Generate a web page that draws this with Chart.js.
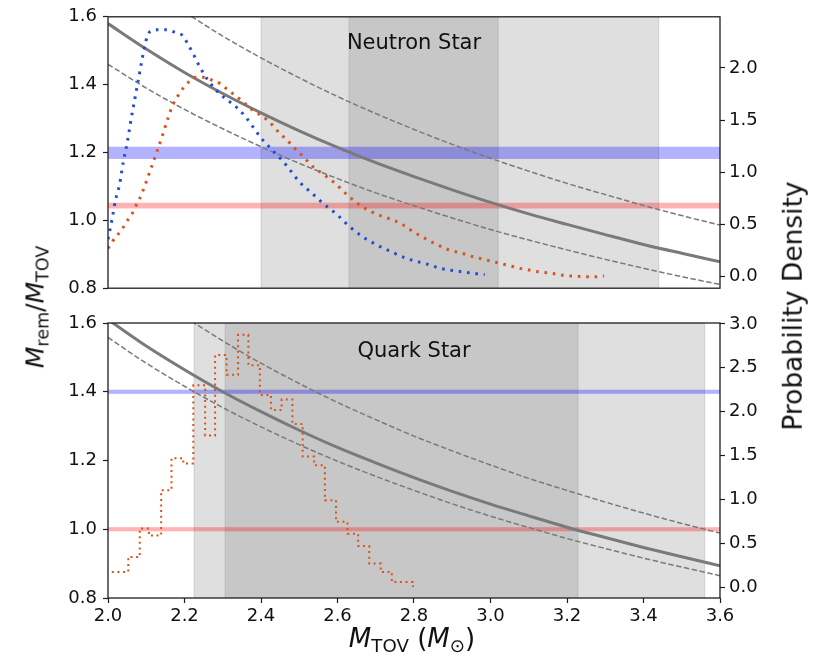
<!DOCTYPE html>
<html>
<head>
<meta charset="utf-8">
<script src="https://cdn.jsdelivr.net/npm/chart.js@4.4.1/dist/chart.umd.min.js"></script>
<style>
  body { margin: 0; background: #fff; font-family: "DejaVu Sans", sans-serif; }
  #wrap { position: relative; width: 819px; height: 659px; overflow: hidden; }
  canvas { position: absolute; left: 0; }
  #nsCanvas { top: 0; }
  #qsCanvas { top: 305px; }
  .txt { position: absolute; white-space: nowrap; color: #111; line-height: 1; }
  .panelTitle { font-size: 21px; transform: translateX(-50%); }
  .axisLab { font-size: 25px; }
  .rot { transform: translate(-50%, -50%) rotate(-90deg); }
  .sub { font-size: 70%; position: relative; top: 0.3em; }
</style>
</head>
<body>
<div id="wrap">
  <canvas id="nsCanvas" width="819" height="305"></canvas>
  <canvas id="qsCanvas" width="819" height="354"></canvas>
  <div class="txt panelTitle" style="left:414px; top:32px;">Neutron Star</div>
  <div class="txt panelTitle" style="left:414px; top:340px;">Quark Star</div>
  <div class="txt axisLab rot" style="left:35px; top:307px;"><i>M</i><span class="sub">rem</span>/<i>M</i><span class="sub">TOV</span></div>
  <div class="txt axisLab rot" style="left:793px; top:306px; font-size:26.5px;">Probability Density</div>
  <div class="txt axisLab" style="left:412px; top:625px; font-size:26px; transform:translateX(-50%);"><i>M</i><span class="sub">TOV</span> (<i>M</i><span class="sub">⊙</span>)</div>
</div>
<script>
// ticks
const xTicks = [2.0, 2.2, 2.4, 2.6, 2.8, 3.0, 3.2, 3.4, 3.6];
const ratioTicks = [0.8, 1.0, 1.2, 1.4, 1.6];
const nsDensityTicks = [0.0, 0.5, 1.0, 1.5, 2.0];
const qsDensityTicks = [0.0, 0.5, 1.0, 1.5, 2.0, 2.5, 3.0];

// M_rem / M_TOV curves, sampled along M_TOV
const curveX = [2.0, 2.1, 2.2, 2.3, 2.4, 2.5, 2.6, 2.7, 2.8, 2.9, 3.0, 3.1, 3.2, 3.3, 3.4, 3.5, 3.6];
const nsFit   = [1.580, 1.505, 1.436, 1.374, 1.317, 1.264, 1.215, 1.170, 1.129, 1.090, 1.053, 1.019, 0.988, 0.958, 0.929, 0.903, 0.878];
const nsUpper = [null, null, 1.614, 1.543, 1.479, 1.420, 1.365, 1.315, 1.268, 1.224, 1.183, 1.145, 1.109, 1.076, 1.044, 1.014, 0.986];
const nsLower = [1.460, 1.390, 1.327, 1.270, 1.217, 1.168, 1.123, 1.081, 1.043, 1.007, 0.973, 0.942, 0.913, 0.885, 0.859, 0.834, 0.811];
const qsFit   = [1.610, 1.533, 1.464, 1.400, 1.342, 1.288, 1.238, 1.193, 1.150, 1.110, 1.073, 1.039, 1.006, 0.976, 0.947, 0.920, 0.894];
const qsUpper = [null, null, 1.618, 1.548, 1.483, 1.424, 1.369, 1.319, 1.271, 1.228, 1.187, 1.148, 1.113, 1.079, 1.047, 1.017, 0.989];
const qsLower = [1.558, 1.483, 1.416, 1.354, 1.298, 1.246, 1.198, 1.154, 1.113, 1.074, 1.038, 1.005, 0.973, 0.944, 0.916, 0.890, 0.865];

// neutron star densities (right axis)
const nsBlueX = [2.000, 2.010, 2.020, 2.030, 2.040, 2.050, 2.060, 2.070, 2.080, 2.090, 2.100, 2.110, 2.130, 2.155, 2.175, 2.195, 2.210, 2.225, 2.240, 2.260, 2.290, 2.320, 2.340, 2.360, 2.380, 2.400, 2.425, 2.450, 2.470, 2.500, 2.530, 2.560, 2.600, 2.630, 2.665, 2.700, 2.740, 2.780, 2.830, 2.870, 2.920, 2.960, 2.985];
const nsBlueY = [0.36, 0.54, 0.74, 0.88, 1.10, 1.28, 1.50, 1.70, 1.90, 2.10, 2.27, 2.35, 2.365, 2.365, 2.34, 2.31, 2.22, 2.12, 2.01, 1.89, 1.76, 1.67, 1.61, 1.53, 1.43, 1.33, 1.23, 1.135, 1.05, 0.91, 0.81, 0.71, 0.59, 0.485, 0.385, 0.31, 0.24, 0.175, 0.125, 0.08, 0.05, 0.03, 0.02];
const nsOrangeX = [2.000, 2.012, 2.025, 2.039, 2.051, 2.064, 2.073, 2.083, 2.092, 2.100, 2.114, 2.129, 2.143, 2.157, 2.170, 2.184, 2.197, 2.212, 2.230, 2.250, 2.274, 2.293, 2.310, 2.345, 2.380, 2.400, 2.415, 2.432, 2.447, 2.463, 2.478, 2.493, 2.511, 2.526, 2.542, 2.560, 2.578, 2.595, 2.612, 2.628, 2.646, 2.663, 2.682, 2.702, 2.724, 2.744, 2.765, 2.784, 2.803, 2.823, 2.842, 2.862, 2.882, 2.903, 2.925, 2.946, 2.968, 2.990, 3.012, 3.034, 3.055, 3.077, 3.099, 3.121, 3.142, 3.164, 3.189, 3.210, 3.232, 3.253, 3.276, 3.297];
const nsOrangeY = [0.27, 0.34, 0.40, 0.47, 0.54, 0.61, 0.68, 0.75, 0.83, 0.91, 1.055, 1.21, 1.36, 1.52, 1.65, 1.74, 1.81, 1.87, 1.91, 1.91, 1.88, 1.85, 1.80, 1.70, 1.59, 1.545, 1.505, 1.445, 1.38, 1.325, 1.27, 1.21, 1.15, 1.09, 1.035, 0.99, 0.94, 0.89, 0.83, 0.775, 0.72, 0.675, 0.635, 0.60, 0.57, 0.545, 0.51, 0.465, 0.42, 0.38, 0.34, 0.305, 0.27, 0.245, 0.225, 0.20, 0.18, 0.16, 0.14, 0.12, 0.10, 0.08, 0.065, 0.05, 0.04, 0.03, 0.015, 0.007, 0.003, 0.0, 0.0, 0.007];

// quark star histogram: left bin edges and heights
const qsBinX = [2.010, 2.053, 2.083, 2.107, 2.139, 2.166, 2.197, 2.223, 2.254, 2.280, 2.310, 2.340, 2.367, 2.397, 2.426, 2.454, 2.482, 2.509, 2.539, 2.567, 2.596, 2.626, 2.654, 2.683, 2.713, 2.742, 2.797, 2.800];
const qsBinY = [0.175, 0.345, 0.67, 0.59, 1.105, 1.47, 1.41, 2.30, 1.73, 2.645, 2.42, 2.875, 2.53, 2.19, 2.02, 2.14, 1.86, 1.49, 1.39, 0.99, 0.745, 0.61, 0.47, 0.27, 0.175, 0.06, 0.015, 0.015];

// shaded ranges
const nsOuterSpan = [2.40, 3.44];
const nsInnerSpan = [2.63, 3.02];
const qsOuterSpan = [2.225, 3.56];
const qsInnerSpan = [2.306, 3.229];
const nsBlueBand = [1.181, 1.217];
const nsRedBand = [1.035, 1.052];
const qsBlueBand = [1.394, 1.406];
const qsRedBand = [0.994, 1.006];

Chart.defaults.font.family = "'DejaVu Sans'";
Chart.defaults.color = '#111';

const inkColor = '#1e1e1e';
const tickFont = { size: 18 };

const toXY = (xs, ys) => xs.map((x, i) => ({ x: x, y: ys[i] }));

// grey vertical spans + coloured horizontal bands drawn under the lines
const spanPlugin = {
  id: 'spans',
  beforeDatasetsDraw(chart, args, opts) {
    const { ctx, chartArea: a, scales } = chart;
    ctx.save();
    ctx.beginPath();
    ctx.rect(a.left, a.top, a.width, a.height);
    ctx.clip();
    opts.vspans.forEach(s => {
      const x0 = scales.x.getPixelForValue(s[0]);
      const x1 = scales.x.getPixelForValue(s[1]);
      ctx.fillStyle = 'rgba(128,128,128,0.25)';
      ctx.fillRect(x0, a.top, x1 - x0, a.height);
      ctx.strokeStyle = 'rgba(128,128,128,0.25)';
      ctx.lineWidth = 1;
      ctx.beginPath();
      ctx.moveTo(x0, a.top); ctx.lineTo(x0, a.bottom);
      ctx.moveTo(x1, a.top); ctx.lineTo(x1, a.bottom);
      ctx.stroke();
    });
    opts.hbands.forEach(b => {
      const y0 = scales.y.getPixelForValue(b.range[0]);
      const y1 = scales.y.getPixelForValue(b.range[1]);
      ctx.fillStyle = b.color;
      ctx.fillRect(a.left, y1, a.width, y0 - y1);
    });
    ctx.restore();
  },
  afterDatasetsDraw(chart) {
    const { ctx, chartArea: a } = chart;
    ctx.save();
    ctx.strokeStyle = inkColor;
    ctx.lineWidth = 1.3;
    ctx.strokeRect(a.left, a.top, a.width, a.height);
    ctx.restore();
  }
};

const fixTicks = vals => scale => { scale.ticks = vals.map(v => ({ value: v })); };

function makePanel(canvasId, cfg) {
  const lineSet = (data, color, width, dash, axis) => ({
    data: data, yAxisID: axis, borderColor: color, borderWidth: width,
    borderDash: dash, borderCapStyle: 'butt', pointRadius: 0, fill: false,
    cubicInterpolationMode: 'monotone', clip: 0
  });
  const datasets = cfg.density.concat([
    lineSet(toXY(curveX, cfg.fit), '#7a7a7a', 3, [], 'y'),
    lineSet(toXY(curveX, cfg.upper), '#7a7a7a', 1.5, [5.5, 2.5], 'y'),
    lineSet(toXY(curveX, cfg.lower), '#7a7a7a', 1.5, [5.5, 2.5], 'y')
  ]);

  return new Chart(document.getElementById(canvasId), {
    type: 'line',
    data: { datasets: datasets },
    plugins: [spanPlugin],
    options: {
      responsive: false,
      animation: false,
      devicePixelRatio: 1,
      layout: { padding: cfg.padding },
      plugins: {
        legend: { display: false },
        tooltip: { enabled: false },
        spans: { vspans: cfg.vspans, hbands: cfg.hbands }
      },
      scales: {
        x: {
          type: 'linear', min: 2.0, max: 3.6, display: cfg.showX,
          afterBuildTicks: fixTicks(xTicks),
          afterFit: s => { s.height = cfg.showX ? 61 : 0; },
          ticks: { font: tickFont, color: '#111', padding: 3, autoSkip: false, maxRotation: 0,
                   callback: v => v.toFixed(1) },
          grid: { drawOnChartArea: false, tickLength: 5, tickColor: inkColor, tickWidth: 1.2 },
          border: { display: false }
        },
        y: {
          type: 'linear', position: 'left', min: 0.8, max: 1.6,
          afterBuildTicks: fixTicks(ratioTicks),
          afterFit: s => { s.width = 108; },
          ticks: { font: tickFont, color: '#111', padding: 6, autoSkip: false,
                   callback: v => v.toFixed(1) },
          grid: { drawOnChartArea: false, tickLength: 5, tickColor: inkColor, tickWidth: 1.2 },
          border: { display: false }
        },
        y2: {
          type: 'linear', position: 'right', min: cfg.densMin, max: cfg.densMax,
          afterBuildTicks: fixTicks(cfg.densTicks),
          afterFit: s => { s.width = 99; },
          ticks: { font: tickFont, color: '#111', padding: 4, autoSkip: false,
                   callback: v => v.toFixed(1) },
          grid: { drawOnChartArea: false, tickLength: 5, tickColor: inkColor, tickWidth: 1.2 },
          border: { display: false }
        }
      }
    }
  });
}

const dotted = (data, color, width, dash, stepped) => ({
  data: data, yAxisID: 'y2', borderColor: color, borderWidth: width,
  borderDash: dash, borderCapStyle: 'butt', pointRadius: 0, fill: false,
  stepped: stepped, cubicInterpolationMode: 'monotone', clip: 0
});

makePanel('nsCanvas', {
  showX: false,
  padding: { top: 15, bottom: 15, left: 0, right: 0 },
  densMin: -0.11, densMax: 2.49, densTicks: nsDensityTicks,
  fit: nsFit, upper: nsUpper, lower: nsLower,
  vspans: [nsOuterSpan, nsInnerSpan],
  hbands: [
    { range: nsBlueBand, color: 'rgba(0,0,255,0.3)' },
    { range: nsRedBand, color: 'rgba(255,0,0,0.3)' }
  ],
  density: [
    dotted(toXY(nsBlueX, nsBlueY), '#1f4fd1', 3, [2.6, 5.8], false),
    dotted(toXY(nsOrangeX, nsOrangeY), '#d9541a', 3, [2.6, 5.8], false)
  ]
});

makePanel('qsCanvas', {
  showX: true,
  padding: { top: 18, bottom: 0, left: 0, right: 0 },
  densMin: -0.122, densMax: 3.01, densTicks: qsDensityTicks,
  fit: qsFit, upper: qsUpper, lower: qsLower,
  vspans: [qsOuterSpan, qsInnerSpan],
  hbands: [
    { range: qsBlueBand, color: 'rgba(0,0,255,0.3)' },
    { range: qsRedBand, color: 'rgba(255,0,0,0.3)' }
  ],
  density: [
    dotted(toXY(qsBinX, qsBinY), '#d9541a', 2, [2, 3.6], true)
  ]
});
</script>
</body>
</html>
